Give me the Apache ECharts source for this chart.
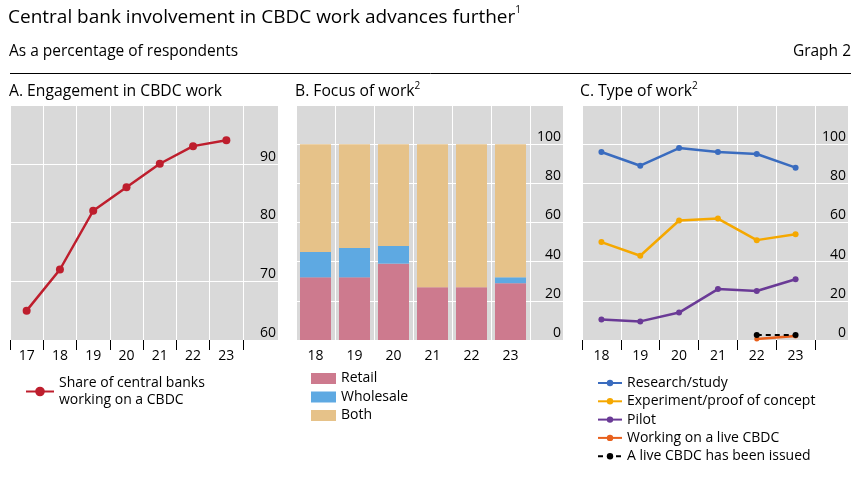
<!DOCTYPE html>
<html>
<head>
<meta charset="utf-8">
<script src="https://cdn.jsdelivr.net/npm/echarts@6/dist/echarts.min.js"></script>
<style>
html,body{margin:0;padding:0;background:#fff;}
#chart{width:858px;height:477px;}
</style>
</head>
<body>
<div id="chart"></div>
<script>
// ---- Data ----
const yearsA = ['17', '18', '19', '20', '21', '22', '23'];
const shareCBDC = [65, 72, 82, 86, 90, 93, 94];

const yearsBC = ['18', '19', '20', '21', '22', '23'];
const retail = [32, 32, 39, 27, 27, 29];
const wholesale = [13, 15, 9, 0, 0, 3];
const both = [55, 53, 52, 73, 73, 68];

const research = [96, 89, 98, 96, 95, 88];
const experiment = [50, 43, 61, 62, 51, 54];
const pilot = [10.5, 9.5, 14, 26, 25, 31];
const liveWorking = [null, null, null, null, 0.5, 2];
const liveIssued = [null, null, null, null, 2.5, 2.5];

const axisA = { min: 60, max: 100, interval: 10 };
const axisBC = { min: 0, max: 120, interval: 20 };

// ---- Chart ----
const FONT = 'Open Sans';
const BG = '#d9d9d9';
const chart = echarts.init(document.getElementById('chart'));

function gridPair(left, width, stripWidth) {
  return [
    { left: left, top: 105, width: width, height: 235, show: true, backgroundColor: BG, borderWidth: 0, containLabel: false },
    { left: left + width, top: 105, width: stripWidth, height: 235, show: true, backgroundColor: BG, borderWidth: 0, containLabel: false }
  ];
}

function mainX(gi, data, ticks) {
  return {
    type: 'category', gridIndex: gi, data: data, boundaryGap: true,
    axisLine: { show: false },
    axisTick: { show: ticks, length: 10, interval: 0, lineStyle: { color: '#000', width: 1 } },
    axisLabel: { interval: 0, margin: 9, fontSize: 14, color: '#000', fontFamily: FONT },
    splitLine: { show: true, interval: 0, lineStyle: { color: '#fff', width: 1 } }
  };
}
function stripX(gi) {
  return { type: 'category', gridIndex: gi, data: [''], show: false };
}
function mainY(gi, ax) {
  return {
    type: 'value', gridIndex: gi, min: ax.min, max: ax.max, interval: ax.interval,
    axisLabel: { show: false }, axisLine: { show: false }, axisTick: { show: false },
    splitLine: { show: true, lineStyle: { color: '#fff', width: 1 } }
  };
}
function stripY(gi, ax) {
  return {
    type: 'value', gridIndex: gi, min: ax.min, max: ax.max, interval: ax.interval, position: 'right',
    axisLine: { show: false }, axisTick: { show: false },
    axisLabel: { inside: true, margin: 2, fontSize: 14, color: '#000', fontFamily: FONT,
      verticalAlign: 'bottom', showMaxLabel: false, showMinLabel: true },
    splitLine: { show: true, lineStyle: { color: '#fff', width: 1 } }
  };
}

const supRich = { sup: { fontSize: 10, verticalAlign: 'top', lineHeight: 12, fontFamily: FONT, color: '#000' } };

const option = {
  animation: false,
  textStyle: { fontFamily: FONT },
  title: [
    { text: 'Central bank involvement in CBDC work advances further{sup|1}', left: 8, top: 5, padding: 0,
      textStyle: { fontSize: 19, fontWeight: 'normal', color: '#000', fontFamily: FONT, lineHeight: 25, rich: supRich } },
    { text: 'As a percentage of respondents', left: 9, top: 41, padding: 0,
      textStyle: { fontSize: 15.5, fontWeight: 'normal', color: '#000', fontFamily: FONT, lineHeight: 21 } },
    { text: 'Graph 2', right: 7, top: 41, padding: 0,
      textStyle: { fontSize: 15.5, fontWeight: 'normal', color: '#000', fontFamily: FONT, lineHeight: 21 } },
    { text: 'A. Engagement in CBDC work', left: 9, top: 81, padding: 0,
      textStyle: { fontSize: 15.7, fontWeight: 'normal', color: '#000', fontFamily: FONT, lineHeight: 21 } },
    { text: 'B. Focus of work{sup|2}', left: 295, top: 81, padding: 0,
      textStyle: { fontSize: 15.7, fontWeight: 'normal', color: '#000', fontFamily: FONT, lineHeight: 21, rich: supRich } },
    { text: 'C. Type of work{sup|2}', left: 580, top: 81, padding: 0,
      textStyle: { fontSize: 15.7, fontWeight: 'normal', color: '#000', fontFamily: FONT, lineHeight: 21, rich: supRich } }
  ],
  graphic: [
    { type: 'line', shape: { x1: 10, y1: 73.5, x2: 851, y2: 73.5 }, style: { stroke: '#000', lineWidth: 1 } }
  ],
  grid: [].concat(gridPair(10, 233, 35), gridPair(296, 234, 33), gridPair(582, 233, 33)),
  xAxis: [
    mainX(0, yearsA, true), stripX(1),
    mainX(2, yearsBC, false), stripX(3),
    mainX(4, yearsBC, true), stripX(5)
  ],
  yAxis: [
    mainY(0, axisA), stripY(1, axisA),
    mainY(2, axisBC), stripY(3, axisBC),
    mainY(4, axisBC), stripY(5, axisBC)
  ],
  legend: [
    { data: ['Share of central banks working on a CBDC'], orient: 'vertical', left: 25, top: 366,
      itemWidth: 28, itemHeight: 12, itemGap: 0, itemTextGap: 7, padding: 0,
      formatter: () => 'Share of central banks\nworking on a CBDC',
      textStyle: { fontSize: 14, color: '#000', fontFamily: FONT, lineHeight: 17, padding: [17, 0, 0, 0] } },
    { data: ['Retail', 'Wholesale', 'Both'], orient: 'vertical', left: 311, top: 370,
      icon: 'rect', itemWidth: 25, itemHeight: 11, itemGap: 1.5, itemTextGap: 8, padding: 0,
      textStyle: { fontSize: 14, color: '#000', fontFamily: FONT, lineHeight: 17 } },
    { data: ['Research/study', 'Experiment/proof of concept', 'Pilot', 'Working on a live CBDC', 'A live CBDC has been issued'],
      orient: 'vertical', left: 597, top: 374.5,
      itemWidth: 24, itemHeight: 8, itemGap: 1.3, itemTextGap: 8, padding: 0,
      textStyle: { fontSize: 14, color: '#000', fontFamily: FONT, lineHeight: 17 } }
  ],
  series: [
    { name: 'Share of central banks working on a CBDC', type: 'line', xAxisIndex: 0, yAxisIndex: 0,
      data: shareCBDC, symbol: 'circle', symbolSize: 8, color: '#be1e2d',
      lineStyle: { width: 2.5, color: '#be1e2d' }, itemStyle: { color: '#be1e2d' } },

    { name: 'Retail', type: 'bar', stack: 'focus', xAxisIndex: 2, yAxisIndex: 2, data: retail,
      barWidth: 31, itemStyle: { color: '#cd7a8e' } },
    { name: 'Wholesale', type: 'bar', stack: 'focus', xAxisIndex: 2, yAxisIndex: 2, data: wholesale,
      barWidth: 31, itemStyle: { color: '#5ea9e2' } },
    { name: 'Both', type: 'bar', stack: 'focus', xAxisIndex: 2, yAxisIndex: 2, data: both,
      barWidth: 31, itemStyle: { color: '#e6c289' } },

    { name: 'Research/study', type: 'line', xAxisIndex: 4, yAxisIndex: 4, data: research,
      symbol: 'circle', symbolSize: 6, color: '#3a6cbf', lineStyle: { width: 2.5 }, itemStyle: { color: '#3a6cbf' } },
    { name: 'Experiment/proof of concept', type: 'line', xAxisIndex: 4, yAxisIndex: 4, data: experiment,
      symbol: 'circle', symbolSize: 6, color: '#f5a800', lineStyle: { width: 2.5 }, itemStyle: { color: '#f5a800' } },
    { name: 'Pilot', type: 'line', xAxisIndex: 4, yAxisIndex: 4, data: pilot,
      symbol: 'circle', symbolSize: 6, color: '#6a3a96', lineStyle: { width: 2.5 }, itemStyle: { color: '#6a3a96' } },
    { name: 'Working on a live CBDC', type: 'line', xAxisIndex: 4, yAxisIndex: 4, data: liveWorking,
      symbol: 'circle', symbolSize: 5, color: '#e8601c', lineStyle: { width: 2.5 }, itemStyle: { color: '#e8601c' } },
    { name: 'A live CBDC has been issued', type: 'line', xAxisIndex: 4, yAxisIndex: 4, data: liveIssued,
      symbol: 'circle', symbolSize: 6, color: '#000', lineStyle: { width: 2, type: [5, 4], color: '#000' },
      itemStyle: { color: '#000' }, z: 5 }
  ]
};
chart.setOption(option);
</script>
</body>
</html>
